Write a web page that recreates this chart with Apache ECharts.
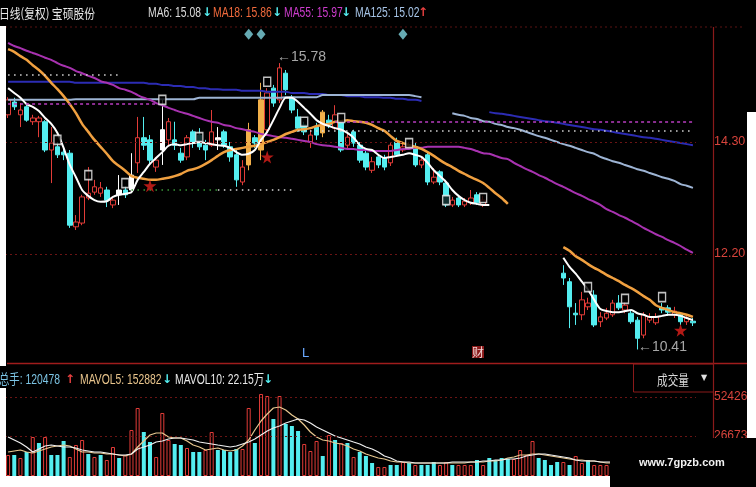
<!DOCTYPE html>
<html><head><meta charset="utf-8">
<script src="https://cdn.jsdelivr.net/npm/echarts@6/dist/echarts.min.js"></script>
<style>html,body{margin:0;padding:0;background:#000;}#c{width:756px;height:487px;}</style>
</head><body><div id="c"></div>
<script>
// ---------- data ----------
const days = Array.from({length: 112}, (_, i) => 'D' + (i + 1));
const priceTicks = [12.20, 14.30];
const volTicks = [26673, 52426];

const opens = [14.81,15.05,14.81,14.96,14.68,14.68,14.68,14.15,14.21,14.11,
14.09,12.71,12.78,13.25,13.36,13.34,13.40,13.12,13.31,13.40,
13.40,13.91,14.38,14.34,13.83,14.15,14.34,14.34,14.09,14.02,
14.49,14.43,14.24,14.24,14.34,14.49,14.21,14.06,13.55,13.87,
14.38,14.15,14.53,15.31,15.09,15.59,15.14,14.77,14.62,14.30,
14.58,14.47,14.71,14.56,14.66,14.24,14.49,14.24,14.09,13.77,
14.02,14.00,13.91,14.30,14.15,14.19,14.21,13.87,14.06,13.55,
13.74,13.53,13.12,13.25,13.12,13.16,13.31,13.12,
null,null,null,null,null,null,null,null,null,null,null,null,
11.84,11.68,11.09,11.06,11.21,11.43,10.93,11.00,11.06,11.28,
11.15,11.09,10.96,10.68,10.96,10.91,11.19,11.19,11.06,11.06,10.93,10.94];
const closes = [15.09,14.96,14.90,14.71,14.75,14.75,14.15,14.28,14.06,14.06,
12.74,12.80,13.27,13.34,13.46,13.44,13.21,13.21,13.40,13.31,
13.68,14.38,14.24,13.96,13.96,14.53,14.68,14.24,13.96,14.38,
14.28,14.21,14.15,14.49,14.38,14.24,14.02,13.59,13.83,14.53,
14.28,15.09,15.22,15.03,15.69,15.28,14.90,14.56,14.49,14.43,
14.43,14.86,14.62,14.81,14.15,14.39,14.28,13.96,13.83,13.93,
13.87,13.83,14.24,14.06,14.21,14.24,13.87,13.96,13.55,13.64,
13.55,13.12,13.21,13.12,13.19,13.25,13.16,13.21,
null,null,null,null,null,null,null,null,null,null,null,null,
11.75,11.21,11.06,11.34,11.28,10.87,11.02,11.09,11.28,11.19,
11.24,10.93,10.62,11.06,11.02,11.02,11.15,11.11,11.13,10.93,11.00,10.91];
const highs = [15.14,15.13,15.03,15.01,14.81,14.79,14.71,14.58,14.30,14.19,
14.15,12.93,13.31,13.83,13.59,13.55,13.46,13.27,13.68,13.47,
14.09,14.77,14.77,14.43,14.02,15.09,14.75,14.68,14.19,14.43,
14.53,14.56,14.34,14.90,14.58,14.53,14.30,14.15,13.96,14.66,
14.43,15.41,15.31,15.37,15.78,15.65,15.18,14.92,14.68,14.53,
14.66,14.90,14.81,14.99,14.71,14.47,14.53,14.30,14.15,14.02,
14.06,14.06,14.28,14.38,14.28,14.30,14.28,14.02,14.11,13.81,
13.77,13.59,13.27,13.31,13.25,13.40,13.36,13.29,
null,null,null,null,null,null,null,null,null,null,null,null,
11.99,11.75,11.28,11.49,11.38,11.52,11.11,11.19,11.34,11.43,
11.30,11.15,11.02,11.11,11.09,11.09,11.28,11.24,11.21,11.11,11.06,11.00];
const lows = [14.75,14.90,14.58,14.68,14.62,14.39,14.11,13.53,14.00,13.96,
12.69,12.65,12.74,13.21,13.31,13.27,13.08,13.06,13.12,13.25,
13.34,13.72,14.15,13.87,13.74,13.87,14.24,14.15,13.91,13.96,
14.19,14.15,13.96,14.21,14.15,14.19,13.93,13.46,13.49,13.77,
14.19,13.96,14.43,14.96,15.03,15.18,14.84,14.49,14.43,14.19,
14.34,14.39,14.56,14.53,14.11,14.15,14.21,13.91,13.77,13.72,
13.81,13.77,13.85,14.02,14.11,14.15,13.83,13.81,13.49,13.51,
13.49,13.08,13.08,13.08,13.08,13.12,13.12,13.08,
null,null,null,null,null,null,null,null,null,null,null,null,
11.62,10.81,10.87,10.96,11.15,10.83,10.83,10.96,11.02,11.15,
11.09,10.89,10.41,10.62,10.91,10.87,11.09,11.04,11.00,10.87,10.87,10.85];
const whiteCandles = [18, 20, 25, 34];
const orangeCandles = [39, 41, 51];

const ma6 = [15.31,15.22,15.13,15.01,14.96,14.88,14.75,14.64,14.47,14.19,
13.87,13.64,13.40,13.29,13.21,13.18,13.19,13.27,13.31,13.33,
13.36,13.59,13.74,13.89,14.00,14.11,14.23,14.26,14.24,14.26,
14.28,14.30,14.28,14.26,14.24,14.23,14.19,14.11,14.06,14.08,
14.15,14.34,14.49,14.71,14.94,15.13,15.13,15.05,14.94,14.83,
14.71,14.64,14.60,14.56,14.53,14.47,14.38,14.24,14.17,14.15,
14.06,14.00,14.02,14.04,14.06,14.09,14.06,14.02,13.91,13.77,
13.66,13.55,13.40,13.29,13.21,13.16,13.14,13.12,13.12,
null,null,null,null,null,null,null,null,null,null,null,
12.13,11.96,11.83,11.68,11.53,11.34,11.17,11.13,11.11,11.11,
11.13,11.15,11.09,11.06,11.02,11.02,11.04,11.06,11.06,11.04,11.00,10.96];
const ma18 = [16.04,15.99,15.91,15.84,15.74,15.65,15.54,15.41,15.29,15.16,
15.01,14.84,14.64,14.49,14.34,14.21,14.08,13.94,13.85,13.76,
13.66,13.63,13.61,13.59,13.59,13.61,13.63,13.66,13.70,13.76,
13.79,13.83,13.89,13.96,14.04,14.11,14.15,14.17,14.19,14.21,
14.23,14.26,14.30,14.34,14.39,14.45,14.49,14.53,14.54,14.56,
14.60,14.62,14.64,14.68,14.69,14.71,14.69,14.68,14.66,14.62,
14.56,14.51,14.41,14.32,14.28,14.24,14.21,14.17,14.11,14.04,
13.96,13.89,13.83,13.76,13.70,13.64,13.59,13.53,13.44,13.34,
13.25,13.14,
null,null,null,null,null,null,null,null,
12.33,12.26,12.16,12.09,12.01,11.94,11.88,11.81,11.75,11.69,
11.62,11.56,11.49,11.41,11.34,11.24,11.19,11.15,11.11,11.09,11.06,11.02];
const ma55 = [16.16,16.10,16.06,16.01,15.97,15.93,15.88,15.84,15.78,15.73,
15.69,15.63,15.59,15.54,15.50,15.44,15.41,15.37,15.31,15.28,
15.24,15.18,15.13,15.09,15.03,14.99,14.94,14.90,14.86,14.83,
14.79,14.75,14.71,14.68,14.66,14.62,14.60,14.56,14.54,14.51,
14.49,14.45,14.43,14.41,14.39,14.38,14.36,14.34,14.32,14.30,
14.26,14.24,14.23,14.21,14.19,14.17,14.17,14.15,14.15,14.13,
14.13,14.13,14.13,14.15,14.17,14.17,14.19,14.19,14.21,14.21,
14.21,14.21,14.21,14.21,14.19,14.17,14.13,14.09,14.08,14.04,
14.00,13.98,13.91,13.85,13.79,13.74,13.68,13.63,13.57,13.51,
13.46,13.40,13.34,13.29,13.23,13.18,13.12,13.04,12.99,12.93,
12.88,12.82,12.76,12.69,12.63,12.57,12.52,12.46,12.41,12.35,
12.28,12.22];
const ma125 = [15.09,15.09,15.09,15.09,15.09,15.09,15.09,15.09,15.09,15.09,
15.09,15.10,15.10,15.10,15.10,15.10,15.10,15.10,15.10,15.10,
15.10,15.10,15.10,15.10,15.10,15.10,15.10,15.10,15.10,15.10,
15.10,15.13,15.13,15.13,15.13,15.13,15.13,15.13,15.13,15.13,
15.13,15.13,15.13,15.13,15.13,15.14,15.14,15.14,15.14,15.14,
15.14,15.18,15.18,15.18,15.18,15.18,15.18,15.18,15.18,15.18,
15.18,15.18,15.18,15.18,15.18,15.18,15.16,15.14,
null,null,null,null,
14.84,14.81,14.79,14.75,14.73,14.69,14.68,14.64,14.62,14.58,
14.56,14.53,14.49,14.45,14.41,14.38,14.34,14.30,14.26,14.23,
14.19,14.15,14.11,14.08,14.02,13.98,13.94,13.91,13.87,13.83,
13.79,13.76,13.72,13.68,13.64,13.61,13.57,13.51,13.48,13.44];
const ma250 = [15.43,15.43,15.43,15.43,15.43,15.43,15.43,15.43,15.43,15.43,
15.43,15.41,15.41,15.41,15.41,15.41,15.41,15.41,15.41,15.41,
15.41,15.41,15.41,15.39,15.39,15.37,15.37,15.35,15.35,15.33,
15.33,15.31,15.31,15.29,15.29,15.28,15.28,15.28,15.26,15.26,
15.26,15.26,15.24,15.24,15.24,15.24,15.22,15.22,15.22,15.20,
15.20,15.20,15.18,15.18,15.18,15.16,15.16,15.16,15.14,15.14,
15.14,15.13,15.13,15.11,15.11,15.09,15.09,15.07,
null,null,null,null,null,null,null,null,null,null,
14.86,14.84,14.83,14.81,14.79,14.77,14.75,14.73,14.71,14.69,
14.68,14.66,14.64,14.62,14.60,14.58,14.56,14.54,14.53,14.51,
14.49,14.47,14.45,14.43,14.41,14.39,14.38,14.36,14.34,14.32,
14.30,14.28,14.26,14.24];

const vols = [13940,13940,11940,15930,25880,21900,25880,13940,13940,23230,
12610,20570,23890,14600,12610,13940,10620,19240,11940,13940,
30530,45120,29200,22560,12610,41810,23890,21240,20570,18580,
15930,15930,17250,29200,17250,17250,15930,17920,17920,45120,
21900,54420,53090,37830,53090,34510,33180,29860,21240,16590,
23230,13270,27210,23890,21900,21900,12610,15930,13270,8630,
5970,5970,7300,7300,9290,8630,7300,7300,7300,9290,
7300,9290,7300,7300,7300,7300,10620,7300,11940,10620,
11940,11280,11280,17250,13940,23230,11940,10620,7300,9290,
9290,7300,13270,8630,10620,7300,7300,7300,9000,8200,
7600,9800,12000,8400,7700,7100,8800,7900,8300,7400,9100,8100];
const volDir = [1,-1,1,-1,1,-1,1,-1,-1,-1,
1,1,1,-1,1,-1,1,1,-1,1,
1,1,-1,-1,1,1,1,-1,-1,1,
-1,-1,1,1,-1,-1,-1,-1,1,1,
-1,1,1,-1,1,-1,-1,-1,1,1,
1,-1,1,-1,1,-1,1,-1,-1,-1,
1,1,-1,-1,1,-1,1,-1,-1,-1,
1,1,-1,1,1,1,-1,1,-1,-1,
-1,-1,1,1,1,1,-1,-1,-1,-1,
1,-1,1,1,-1,1,1,1,1,-1,
1,-1,-1,1,1,1,-1,-1,1,-1,1,-1];
const mavol5 = [15930,16590,17250,15930,15260,16590,17920,19240,19910,20570,
19910,17920,15930,15930,15260,15260,14600,14600,13940,13270,
14600,19240,23230,27210,28530,28530,25880,25220,25220,23230,
20570,19240,17250,17920,18580,17250,16590,17250,19910,23890,
30530,36500,41140,45120,45790,43800,40480,37830,33840,29200,
25880,23890,23230,21900,21240,19910,17920,16590,14600,13270,
11940,11280,9950,9290,9290,8630,8630,8630,8630,8630,
8630,8630,8630,8630,8630,9290,9290,9290,9950,9950,
10620,11940,12610,13940,13940,14600,14600,13940,13270,12610,
11940,11280,10620,10620,9950,9950,9290,8630,8630,8630,
8630,8630,8630,8630,8630,8630,8630,8630,8630,8630,8630,8630];
const mavol10 = [25880,23890,21900,19240,15930,17920,19910,20570,19910,19240,
19240,18580,17250,16590,15930,15930,15260,14600,13940,13940,
14600,17920,19240,20570,22560,23230,24550,25220,25220,24550,
23890,22560,21900,21240,20570,19910,19240,19910,21240,22560,
24550,27210,29860,31850,33180,35170,36500,37830,37160,35170,
32520,30530,28530,26540,25220,23890,22560,21240,19240,17920,
15930,13270,11940,9950,9290,9290,8630,8630,8630,8630,
8630,8630,9290,9290,9290,9290,9290,9950,9950,10620,
10620,11280,11280,11940,13270,13940,14600,14600,13940,13270,
12610,11940,10620,9950,9950,9950,9290,9290,9290,9290,
8630,8630,8630,8630,7960,7960,7960,7960,7960,7300,7300,7300];

const starIdx = [23, 42, 109];
const starVal = [13.48, 14.02, 10.77];
const diamondIdx = [39, 41, 64];
const diamondVal = [16.32, 16.32, 16.32];
const signalIdx = [8, 13, 19, 25, 31, 42, 48, 54, 65, 71, 77, 94, 100, 106];
const signalVal = [14.34, 13.68, 13.53, 15.09, 14.39, 15.43, 14.68, 14.75, 14.28, 13.21, 13.25, 11.58, 11.36, 11.39];
const extremeIdx = [44, 102];
const extremeVal = [15.78, 10.41];
// dotted reference levels: [fromIdx, toIdx, value]
const levelFrom = [0, 0, 53, 47, 20, 34];
const levelTo = [18, 24, 111, 111, 34, 46];
const levelVal = [15.56, 15.01, 14.68, 14.51, 13.40, 13.40];
const levelKind = ['w', 'm', 'm', 'w', 'g', 'w'];

// ---------- chart ----------
const RED = '#e23c38', CYAN = '#54eef0', GRIDRED = '#6a1414';
const SANS = '"Liberation Sans", Arial, sans-serif';
const CJK = '"Noto Sans CJK SC", sans-serif';
const dash = v => (v == null ? '-' : v);

const candleData = opens.map((o, i) => {
  if (o == null) return '-';
  const v = [o, closes[i], lows[i], highs[i]];
  if (whiteCandles.includes(i)) return {value: v, itemStyle: {color: '#fff', color0: '#fff', borderColor: '#fff', borderColor0: '#fff'}};
  if (orangeCandles.includes(i)) return {value: v, itemStyle: {color: '#f2b04a', color0: '#f2b04a', borderColor: '#f2b04a', borderColor0: '#f2b04a'}};
  return v;
});
const kindStyle = {
  w: {color: '#d8d8d8', type: [1.5, 4.5], width: 1.5},
  m: {color: '#b83cc0', type: [3, 3], width: 1.5},
  g: {color: '#3a9a3a', type: [1.5, 4.5], width: 1.5}
};
const levelLines = levelVal.map((v, k) => [
  {coord: [levelFrom[k], v], lineStyle: kindStyle[levelKind[k]]},
  {coord: [levelTo[k], v]}
]);
const priceGrid = priceTicks.map(v => ({yAxis: v, lineStyle: {color: GRIDRED, type: [2, 3], width: 1}}));
const volGrid = volTicks.map(v => ({yAxis: v, lineStyle: {color: GRIDRED, type: [2, 3], width: 1}}));

const starPath = 'path://M50,0 L61,35 L98,35 L68,57 L79,91 L50,70 L21,91 L32,57 L2,35 L39,35 Z';

const maLine = (data, color, width) => ({
  type: 'line', xAxisIndex: 0, yAxisIndex: 0, data: data.map(dash),
  showSymbol: false, symbol: 'none', smooth: 0.25, connectNulls: false, z: 4,
  lineStyle: {color, width}, silent: true
});

// condensed header text (the terminal font is narrow and tall)
const txt = (x, y, text, fill, font, sx) => ({
  type: 'text', x, y, z: 50, scaleX: sx == null ? 0.74 : sx,
  style: {text, fill, font, textVerticalAlign: 'middle'}
});
const arrow = (x, y, ch, fill) => txt(x, y, ch, fill, 'bold 12px "DejaVu Sans"', 1);

const option = {
  backgroundColor: '#000',
  animation: false,
  grid: [
    {left: 5, width: 691, top: 22, height: 340},
    {left: 5, width: 691, top: 388, height: 88}
  ],
  xAxis: [
    {type: 'category', gridIndex: 0, data: days, boundaryGap: true,
     axisLine: {show: false}, axisTick: {show: false}, axisLabel: {show: false}, splitLine: {show: false}},
    {type: 'category', gridIndex: 1, data: days, boundaryGap: true,
     axisLine: {show: false}, axisTick: {show: false}, axisLabel: {show: false}, splitLine: {show: false}}
  ],
  yAxis: [
    {type: 'value', gridIndex: 0, position: 'right', offset: 17, min: 10.175, max: 16.55,
     axisLine: {show: false}, axisTick: {show: false}, splitLine: {show: false},
     axisLabel: {customValues: priceTicks, color: '#d8443c', fontSize: 12.5, fontFamily: SANS, margin: 1,
                 formatter: v => Number(v).toFixed(2)}},
    {type: 'value', gridIndex: 1, position: 'right', offset: 17, min: 0, max: 58400,
     axisLine: {show: false}, axisTick: {show: false}, splitLine: {show: false},
     axisLabel: {customValues: volTicks, color: '#d8443c', fontSize: 12, fontFamily: SANS, margin: 1,
                 formatter: v => String(Math.round(v))}}
  ],
  series: [
    {type: 'candlestick', xAxisIndex: 0, yAxisIndex: 0, data: candleData, barWidth: 5, z: 3,
     itemStyle: {color: '#000', color0: CYAN, borderColor: RED, borderColor0: CYAN, borderWidth: 1},
     markLine: {silent: true, symbol: 'none', label: {show: false}, animation: false,
                data: priceGrid.concat(levelLines)}},
    maLine(ma250, '#2c2cb4', 2),
    maLine(ma125, '#9db4d4', 2),
    maLine(ma55, '#a832b0', 2),
    maLine(ma18, '#f0a040', 2.5),
    maLine(ma6, '#ffffff', 2),
    {type: 'scatter', xAxisIndex: 0, yAxisIndex: 0, z: 6, symbol: starPath, symbolSize: 13,
     itemStyle: {color: '#e0201c'}, data: starIdx.map((x, k) => [x, starVal[k]])},
    {type: 'scatter', xAxisIndex: 0, yAxisIndex: 0, z: 6, symbol: 'diamond', symbolSize: [9, 11],
     itemStyle: {color: '#7fd4e0'}, data: diamondIdx.map((x, k) => [x, diamondVal[k]])},
    {type: 'scatter', xAxisIndex: 0, yAxisIndex: 0, z: 6, symbol: 'rect', symbolSize: [7, 9],
     itemStyle: {color: '#000', borderColor: '#f0f0f0', borderWidth: 1.5},
     data: signalIdx.map((x, k) => [x, signalVal[k]])},
    {type: 'scatter', xAxisIndex: 0, yAxisIndex: 0, z: 7, symbolSize: 1,
     itemStyle: {color: 'rgba(0,0,0,0)'},
     label: {show: true, position: 'right', distance: 0, color: '#cfcfcf', fontSize: 14, fontFamily: SANS,
             formatter: p => '\u2190' + p.value[1].toFixed(2)},
     data: extremeIdx.map((x, k) => ({value: [x, extremeVal[k]],
             label: {offset: k === 0 ? [-3, -6] : [0, -2]}}))},
    {type: 'bar', xAxisIndex: 1, yAxisIndex: 1, barWidth: 4, z: 3,
     data: vols.map((v, i) => ({value: v, itemStyle: volDir[i] > 0
        ? {color: 'rgba(0,0,0,0)', borderColor: RED, borderWidth: 1}
        : {color: CYAN}})),
     markLine: {silent: true, symbol: 'none', label: {show: false}, data: volGrid}},
    {type: 'line', xAxisIndex: 1, yAxisIndex: 1, data: mavol5, showSymbol: false, symbol: 'none', z: 4,
     lineStyle: {color: '#e8c890', width: 1.2}},
    {type: 'line', xAxisIndex: 1, yAxisIndex: 1, data: mavol10, showSymbol: false, symbol: 'none', z: 4,
     lineStyle: {color: '#f0f0f0', width: 1.2}}
  ],
  graphic: [
    // frame lines
    {type: 'line', z: 40, shape: {x1: 0, y1: 27, x2: 745, y2: 27}, style: {stroke: '#5a1212', lineWidth: 1, lineDash: [2, 3]}},
    {type: 'line', z: 40, shape: {x1: 7, y1: 363.5, x2: 747, y2: 363.5}, style: {stroke: '#a01c1c', lineWidth: 1.5}},
    {type: 'line', z: 40, shape: {x1: 713.5, y1: 27, x2: 713.5, y2: 476}, style: {stroke: '#8a1a1a', lineWidth: 1.2}},
    {type: 'rect', z: 40, shape: {x: 633.5, y: 364, width: 80, height: 28}, style: {fill: 'rgba(0,0,0,0)', stroke: '#8a1a1a', lineWidth: 1}},
    // header texts
    txt(-1, 13, '日线(复权) 宝硕股份', '#e8e8e8', '13px ' + CJK, 0.83),
    txt(148, 13, 'MA6: 15.08', '#dcdcdc', '14px ' + SANS),
    arrow(202, 13, '\u2193', CYAN),
    txt(213, 13, 'MA18: 15.86', '#f06a3c', '14px ' + SANS),
    arrow(272, 13, '\u2193', CYAN),
    txt(284, 13, 'MA55: 15.97', '#cc3ccc', '14px ' + SANS),
    arrow(341, 13, '\u2193', CYAN),
    txt(355, 13, 'MA125: 15.02', '#a6c4e6', '14px ' + SANS),
    arrow(418, 13, '\u2191', '#e84040'),
    // volume header
    txt(-1, 380, '总手: 120478', '#7cc4e4', '14px ' + SANS + ', ' + CJK),
    arrow(65, 380, '\u2191', '#e84040'),
    txt(80, 380, 'MAVOL5: 152882', '#e8c48c', '14px ' + SANS),
    arrow(162, 380, '\u2193', CYAN),
    txt(175, 380, 'MAVOL10: 22.15万', '#e8e8e8', '14px ' + SANS + ', ' + CJK),
    arrow(263, 380, '\u2193', CYAN),
    txt(657, 380, '成交量', '#d8d8d8', '14px ' + CJK, 0.76),
    txt(701, 378, '\u25BC', '#e0e0e0', '8px "DejaVu Sans"', 1),
    // annotations
    txt(302, 353, 'L', '#6aa8ff', '13px ' + SANS, 1),
    {type: 'text', x: 472, y: 352, z: 50,
     style: {text: '财', fill: '#f0d0d0', font: '12px ' + CJK, textVerticalAlign: 'middle', backgroundColor: '#8a1a1a'}},
    // paper edges of the photo
    {type: 'rect', z: 100, shape: {x: 0, y: 26, width: 6, height: 340}, style: {fill: '#ffffff'}},
    {type: 'rect', z: 100, shape: {x: 0, y: 388, width: 6, height: 99}, style: {fill: '#ffffff'}},
    {type: 'rect', z: 100, shape: {x: 0, y: 476, width: 612, height: 11}, style: {fill: '#ffffff'}},
    {type: 'rect', z: 100, shape: {x: 747, y: 112, width: 9, height: 326}, style: {fill: '#ffffff'}},
    {type: 'rect', z: 101, shape: {x: 610, y: 438, width: 146, height: 49}, style: {fill: '#000000'}},
    {type: 'text', x: 639, y: 463, z: 102,
     style: {text: 'www.7gpzb.com', fill: '#f2f2f2', font: 'bold 11px "Liberation Sans", sans-serif', textVerticalAlign: 'middle'}}
  ]
};
const chart = echarts.init(document.getElementById('c'));
chart.setOption(option);
</script>
</body></html>
